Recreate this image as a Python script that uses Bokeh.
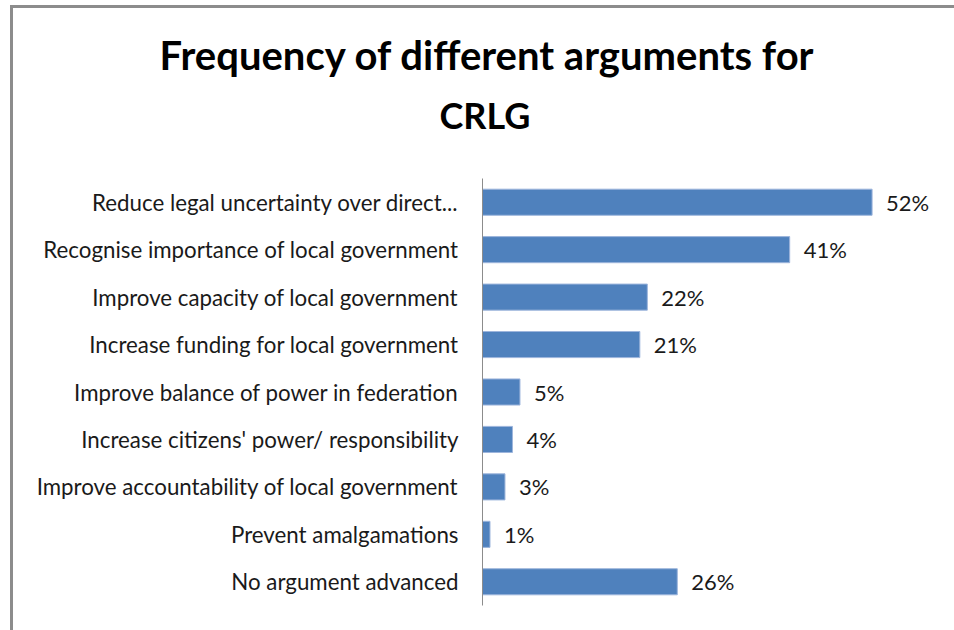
from bokeh.plotting import figure
from bokeh.models import ColumnDataSource, Title, FactorRange, Range1d, InlineStyleSheet
from bokeh.embed import file_html
from bokeh.resources import INLINE
from bokeh.core.properties import value

categories = [
    "Reduce legal uncertainty over direct...",
    "Recognise importance of local government",
    "Improve capacity of local government",
    "Increase funding for local government",
    "Improve balance of power in federation",
    "Increase citizens' power/ responsibility",
    "Improve accountability of local government",
    "Prevent amalgamations",
    "No argument advanced",
]
percentages = [52, 41, 22, 21, 5, 4, 3, 1, 26]
value_labels = [f"{v}%" for v in percentages]
title_lines = ["Frequency of different arguments for", "CRLG"]

FONT = "Lato"

source = ColumnDataSource(dict(cat=categories, val=percentages, lab=value_labels))

frame_css = InlineStyleSheet(css=(
    ":host { background-color: #ffffff; "
    "box-shadow: inset 10px 5px 0px 0px #ffffff, inset 13px 8px 0px 0px #8c8c8c; }"
))

p = figure(
    width=954, height=630,
    y_range=FactorRange(factors=list(reversed(categories)), range_padding=0),
    x_range=Range1d(0, 63.0),
    output_backend="svg", toolbar_location=None,
    min_border_left=482, min_border_right=0, min_border_top=178, min_border_bottom=25,
    background_fill_color=None, border_fill_color=None,
    outline_line_color=None,
    stylesheets=[frame_css],
)

p.hbar(y="cat", right="val", left=0, height=0.55, source=source,
       fill_color="#4F81BD", line_color="#9db5dc", line_width=1)

p.text(x="val", y="cat", text="lab", source=source, x_offset=14,
       text_baseline="middle", text_align="left",
       text_font=value(FONT), text_font_size="22px", text_color="#1a1a1a")

p.xaxis.visible = False
p.xgrid.grid_line_color = None
p.ygrid.grid_line_color = None

ax = p.yaxis[0]
ax.axis_line_color = "#8c8c8c"
ax.axis_line_width = 1
ax.major_tick_line_color = None
ax.minor_tick_line_color = None
ax.major_tick_out = 0
ax.major_tick_in = 0
ax.major_label_standoff = 24
ax.major_label_text_font = FONT
ax.major_label_text_font_size = "22.3px"
ax.major_label_text_color = "#1a1a1a"

# spacer between plot frame and the title lines
p.add_layout(Title(text=" ", text_font_size="1px", standoff=34), "above")
# second line (closest to plot), then first line above it
p.add_layout(Title(text=title_lines[1], align="left", offset=-43, standoff=10,
                   text_font=FONT, text_font_style="bold", text_font_size="36px",
                   text_color="#000000"), "above")
p.add_layout(Title(text=title_lines[0], align="left", offset=-323, standoff=14,
                   text_font=FONT, text_font_style="bold", text_font_size="40px",
                   text_color="#000000"), "above")

open("out.html", "w").write(file_html(p, INLINE))
